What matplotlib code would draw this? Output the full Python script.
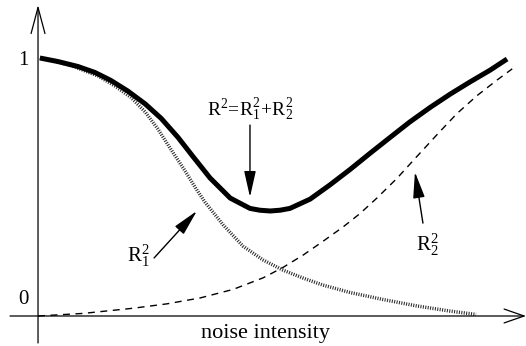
import matplotlib
matplotlib.use("Agg")
import matplotlib.pyplot as plt

plt.rcParams['font.family'] = ['Liberation Serif', 'DejaVu Serif']
plt.rcParams['mathtext.fontset'] = 'custom'
plt.rcParams['mathtext.rm'] = 'Liberation Serif'
plt.rcParams['mathtext.it'] = 'Liberation Serif'

# total R^2 (thick line)
x_tot = [0.004, 0.043, 0.085, 0.121, 0.155, 0.191, 0.228, 0.262, 0.298, 0.328,
         0.366, 0.409, 0.451, 0.472, 0.494, 0.515, 0.536, 0.579, 0.621, 0.664,
         0.706, 0.749, 0.791, 0.834, 0.877, 0.919, 0.962, 0.998]
y_tot = [1.000, 0.986, 0.967, 0.944, 0.913, 0.872, 0.822, 0.766, 0.692, 0.622,
         0.535, 0.457, 0.417, 0.410, 0.407, 0.410, 0.417, 0.453, 0.508, 0.568,
         0.630, 0.692, 0.752, 0.808, 0.860, 0.907, 0.953, 0.996]

# R1^2 (dotted)
x_r1 = [0.004, 0.043, 0.070, 0.128, 0.164, 0.198, 0.228, 0.255, 0.283, 0.313,
        0.336, 0.355, 0.394, 0.436, 0.479, 0.521, 0.564, 0.606, 0.664, 0.734,
        0.806, 0.877, 0.932]
y_r1 = [1.000, 0.984, 0.971, 0.930, 0.891, 0.847, 0.791, 0.725, 0.645, 0.562,
        0.494, 0.442, 0.353, 0.271, 0.217, 0.178, 0.147, 0.120, 0.091, 0.064,
        0.039, 0.019, 0.006]

# R2^2 (dashed)
x_r2 = [0.0, 0.096, 0.202, 0.274, 0.345, 0.415, 0.479, 0.521, 0.564, 0.606,
        0.649, 0.685, 0.721, 0.764, 0.806, 0.849, 0.891, 0.934, 0.977, 1.009]
y_r2 = [0.0, 0.010, 0.030, 0.047, 0.070, 0.103, 0.148, 0.188, 0.236, 0.289,
        0.345, 0.397, 0.457, 0.534, 0.618, 0.703, 0.784, 0.854, 0.915, 0.958]

fig = plt.figure(figsize=(5.26, 3.46), dpi=100)
ax = fig.add_axes([0, 0, 1, 1])
ax.set_xlim(-0.0809, 1.0383)
ax.set_ylim(-0.1163, 1.2248)
ax.axis('off')

# axes with open arrow heads
ax.annotate('', xy=(1.0383, 0), xytext=(-0.0596, 0),
            arrowprops=dict(arrowstyle='->,head_length=0.72,head_width=0.25',
                            mutation_scale=20, lw=0.9, color='black',
                            shrinkA=0, shrinkB=0))
ax.annotate('', xy=(0, 1.2054), xytext=(0, -0.1047),
            arrowprops=dict(arrowstyle='->,head_length=0.94,head_width=0.25',
                            mutation_scale=20, lw=0.9, color='black',
                            shrinkA=0, shrinkB=0))

ax.plot(x_r1, y_r1, color='#2a2a2a', lw=2.5, linestyle=(0, (0.3, 0.4)),
        solid_capstyle='butt', dash_capstyle='butt', solid_joinstyle='round')
ax.plot(x_r2, y_r2, color='black', lw=1.0, linestyle=(0, (5, 4)))
ax.plot(x_tot, y_tot, color='black', lw=3.6, solid_capstyle='butt',
        solid_joinstyle='round')

ax.text(-0.032, 0.992, '1', fontsize=15, ha='center', va='center')
ax.text(-0.032, 0.062, '0', fontsize=15, ha='center', va='center')
ax.text(0.483, -0.066, 'noise intensity', fontsize=16, ha='center', va='center')

head = dict(arrowstyle='-|>,head_length=0.8,head_width=0.18',
            mutation_scale=20, lw=1.0, color='black', shrinkA=0, shrinkB=0)
ax.annotate('', xy=(0.451, 0.461), xytext=(0.451, 0.740), arrowprops=head)
ax.annotate('', xy=(0.338, 0.407), xytext=(0.247, 0.225), arrowprops=head)
ax.annotate('', xy=(0.802, 0.558), xytext=(0.819, 0.360), arrowprops=head)

ax.text(0.451, 0.798, r'$\mathrm{R^2\!=\!R_1^2\!+\!R_2^2}$', fontsize=14,
        ha='center', va='center')
ax.text(0.213, 0.233, r'$\mathrm{R_1^2}$', fontsize=15, ha='center', va='center')
ax.text(0.828, 0.275, r'$\mathrm{R_2^2}$', fontsize=15, ha='center', va='center')

fig.savefig('out.png', dpi=100)
